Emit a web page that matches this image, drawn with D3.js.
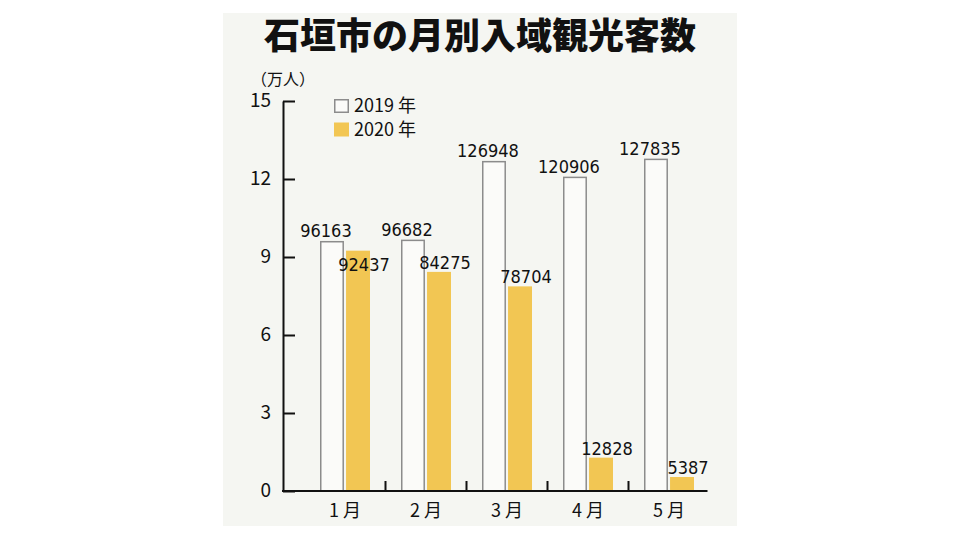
<!DOCTYPE html>
<html>
<head>
<meta charset="utf-8">
<script src="https://cdn.jsdelivr.net/npm/d3@7"></script>
<style>
  html, body { margin: 0; padding: 0; background: #ffffff; }
  svg { display: block; }
</style>
</head>
<body>
<svg id="chart" width="960" height="540"></svg>
<script>
// Monthly visitor arrivals to Ishigaki City, Jan–May, 2019 vs 2020
const months = ["1月", "2月", "3月", "4月", "5月"];
const visitors2019 = [96163, 96682, 126948, 120906, 127835];
const visitors2020 = [92437, 84275, 78704, 12828, 5387];
const seriesNames = ["2019 年", "2020 年"];
const yTicks = [0, 3, 6, 9, 12, 15];
const titleText = "石垣市の月別入域観光客数";
const unitText = "（万人）";

const colors = { panel: "#f5f6f2", y2019: "#fbfbf9", y2019Stroke: "#8c8c8c", y2020: "#f2c653", ink: "#111111" };
const cjk = "'Noto Sans CJK JP', 'Noto Sans', sans-serif";
const numFont = "'DejaVu Sans Condensed', 'DejaVu Sans', sans-serif";

const svg = d3.select("#chart");

// background panel
svg.append("rect")
  .attr("x", 223).attr("y", 13).attr("width", 514).attr("height", 513)
  .attr("fill", colors.panel);

// title
svg.append("text")
  .attr("x", 480).attr("y", 49)
  .attr("text-anchor", "middle")
  .attr("font-family", cjk).attr("font-weight", 900).attr("font-size", 36)
  .attr("fill", colors.ink)
  .text(titleText);

const plot = { left: 283, right: 709.5, top: 101, bottom: 491, bandStart: 304.5 };

const y = d3.scaleLinear().domain([0, 15]).range([plot.bottom, plot.top]);
const x = d3.scaleBand().domain(months).range([plot.bandStart, plot.right]).padding(0);
const half = x.bandwidth() / 2;
const xSub = d3.scaleBand().domain(["2019", "2020"])
  .range([half - 25, half + 25]).paddingInner(0.08);

const toMan = v => v / 10000;

// bars
const g = svg.append("g");
const rows = months.map((m, i) => ({ m, v19: visitors2019[i], v20: visitors2020[i] }));

g.selectAll("rect.b19").data(rows).join("rect").attr("class", "b19")
  .attr("x", d => x(d.m) + xSub("2019") + 0.75)
  .attr("y", d => y(toMan(d.v19)) + 0.75)
  .attr("width", xSub.bandwidth() - 1.5)
  .attr("height", d => y(0) - y(toMan(d.v19)) - 0.75)
  .attr("fill", colors.y2019).attr("stroke", colors.y2019Stroke).attr("stroke-width", 1.5);

g.selectAll("rect.b20").data(rows).join("rect").attr("class", "b20")
  .attr("x", d => x(d.m) + xSub("2020"))
  .attr("y", d => y(toMan(d.v20)))
  .attr("width", xSub.bandwidth())
  .attr("height", d => y(0) - y(toMan(d.v20)))
  .attr("fill", colors.y2020);

// y axis with inward ticks
const yAxis = d3.axisLeft(y).tickValues(yTicks).tickSize(-12).tickSizeOuter(0).tickPadding(12)
  .tickFormat(d3.format("d"));
const gy = svg.append("g").attr("transform", `translate(${plot.left},0)`).call(yAxis);
gy.select(".domain").attr("stroke", colors.ink).attr("stroke-width", 2);
gy.selectAll(".tick line").attr("stroke", colors.ink).attr("stroke-width", 2);
gy.selectAll(".tick text")
  .attr("x", -12)
  .attr("font-family", cjk).attr("font-size", 19).attr("fill", colors.ink)
  .attr("dy", "0.3em");

// x baseline and month separators
svg.append("line")
  .attr("x1", plot.left - 1).attr("x2", plot.right - 2)
  .attr("y1", y(0)).attr("y2", y(0))
  .attr("stroke", colors.ink).attr("stroke-width", 2);
svg.selectAll("line.sep").data(months.slice(1)).join("line").attr("class", "sep")
  .attr("x1", d => x(d)).attr("x2", d => x(d))
  .attr("y1", y(0)).attr("y2", y(0) - 10)
  .attr("stroke", colors.ink).attr("stroke-width", 2);

const xAxis = d3.axisBottom(x).tickSize(0).tickPadding(0);
const gx = svg.append("g").attr("transform", `translate(0,${y(0)})`).call(xAxis);
gx.select(".domain").remove();
gx.selectAll(".tick text")
  .attr("y", 26).attr("dy", 0).attr("dx", 2)
  .attr("font-family", cjk).attr("font-size", 18).attr("letter-spacing", 4)
  .attr("fill", colors.ink);

// unit label
svg.append("text")
  .attr("x", 283).attr("y", 85)
  .attr("text-anchor", "middle")
  .attr("font-family", cjk).attr("font-size", 16).attr("fill", colors.ink)
  .text(unitText);

// legend
const legend = svg.append("g").attr("transform", "translate(334,99)");
seriesNames.forEach((name, i) => {
  const row = legend.append("g").attr("transform", `translate(0,${i * 23.5})`);
  row.append("rect")
    .attr("x", i === 0 ? 0.75 : 0).attr("y", i === 0 ? 0.75 : 0)
    .attr("width", i === 0 ? 13.5 : 15).attr("height", i === 0 ? 12.5 : 14)
    .attr("fill", i === 0 ? colors.y2019 : colors.y2020)
    .attr("stroke", i === 0 ? colors.y2019Stroke : "none")
    .attr("stroke-width", 1.5);
  row.append("text")
    .attr("x", 20).attr("y", 13)
    .attr("font-family", cjk).attr("font-size", 18).attr("fill", colors.ink)
    .text(name);
});

// value labels
const labelSize = 18;
const fmt = d3.format("d");
const lab = svg.append("g")
  .attr("font-family", numFont).attr("font-size", labelSize).attr("fill", colors.ink)
  .attr("text-anchor", "middle");

rows.forEach(d => {
  const c19 = x(d.m) + xSub("2019") + xSub.bandwidth() / 2;
  const c20 = x(d.m) + xSub("2020") + xSub.bandwidth() / 2;
  const base19 = y(toMan(d.v19)) - 4;
  let base20 = y(toMan(d.v20)) - 3;
  // when the 2020 label would run into the 2019 label, drop it two lines lower
  if (base20 - labelSize * 0.75 < base19 + 2) base20 = base19 + labelSize * 1.9;
  lab.append("text").attr("x", c19 - 6).attr("y", base19).text(fmt(d.v19));
  lab.append("text").attr("x", c20 + 6).attr("y", base20).text(fmt(d.v20));
});
</script>
</body>
</html>
